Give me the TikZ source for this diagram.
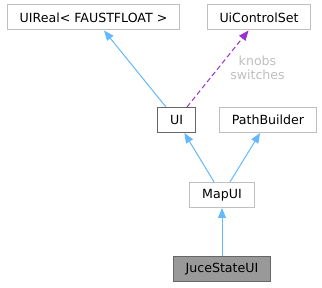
\documentclass[tikz,border=0pt]{standalone}
\usepackage{fontspec}
\setmainfont{DejaVu Sans}
\usepackage{xcolor}
\usetikzlibrary{arrows.meta, positioning}

\definecolor{edgeblue}{HTML}{63B8FF}
\definecolor{edgepurple}{HTML}{9A32CD}
\definecolor{boxline}{HTML}{BFBFBF}
\definecolor{darkline}{HTML}{666666}
\definecolor{curfill}{HTML}{999999}
\definecolor{lblgray}{HTML}{BEBEBE}

\begin{document}
\begin{tikzpicture}[x=1pt, y=1pt, node distance=75pt, on grid,
        font=\fontsize{12.6}{14}\selectfont,
        cls/.style={rectangle, draw=boxline, line width=1pt, fill=white, inner xsep=12.4pt, inner ysep=0pt, minimum height=25pt},
        clsdoc/.style={cls, draw=darkline},
        clscur/.style={cls, draw=darkline, fill=curfill},
        inherit/.style={draw=edgeblue, line width=1pt, -{Triangle[length=10pt, width=8pt]}},
        usage/.style={draw=edgepurple, line width=1pt, dashed, dash pattern=on 5pt off 3pt, -{Triangle[length=10pt, width=8pt]}},
        lbl/.style={text=lblgray, align=center, inner sep=0pt}]

        \useasboundingbox (0,0) rectangle (322,-288);

        % Nodes
        \node [clscur] (juce) at (222,-269.5) {JuceStateUI};
        \node [cls, above=74.5pt of juce] (mapui) {MapUI};
        \node [clsdoc, above left=75pt and 45.5pt of mapui] (ui) {UI};
        \node [cls, above right=75pt and 46pt of mapui] (pathbuilder) {PathBuilder};
        \node [cls, above left=102.5pt and 83pt of ui] (uireal) {UIReal< FAUSTFLOAT >};
        \node [cls, above right=102.5pt and 82.5pt of ui] (controlset) {UiControlSet};

        % Edges
        \path [inherit] (juce.north) -- (mapui.south);
        \path [inherit] (mapui) -- (ui);
        \path [inherit] (mapui) -- (pathbuilder);
        \path [inherit] (ui) -- (uireal);
        \path [usage] (ui) -- (controlset)
            node [lbl, pos=0.5, anchor=west, xshift=12pt, yshift=1pt] {knobs\\switches};

    \end{tikzpicture}
\end{document}
